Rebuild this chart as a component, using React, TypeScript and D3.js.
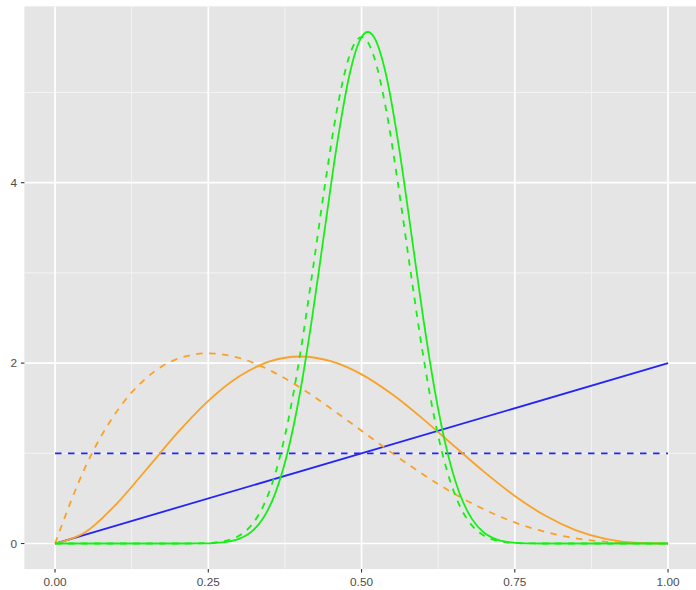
import React from "react";
import * as d3 from "d3";

const blueX = [0, 1];
const blueDashed = [1, 1];
const blueSolid = [0, 2];

const orangeX = [0, 0.05, 0.1, 0.15, 0.2, 0.25, 0.3, 0.35, 0.4, 0.45, 0.5, 0.55, 0.6, 0.65, 0.7, 0.75, 0.8, 0.85, 0.9, 0.95, 1];
const orangeDashed = [0, 0.857, 1.458, 1.842, 2.048, 2.109, 2.058, 1.922, 1.728, 1.497, 1.25, 1.002, 0.768, 0.557, 0.378, 0.234, 0.128, 0.057, 0.018, 0.0024, 0];
const orangeSolid = [0, 0.1286, 0.4374, 0.8291, 1.2288, 1.582, 1.852, 2.0185, 2.0736, 2.0214, 1.875, 1.654, 1.3824, 1.0869, 0.7938, 0.5273, 0.3072, 0.1463, 0.0486, 0.0068, 0];

const greenX = [0, 0.1, 0.2, 0.22, 0.24, 0.26, 0.28, 0.3, 0.32, 0.34, 0.36, 0.38, 0.4, 0.42, 0.44, 0.46, 0.48, 0.49, 0.5, 0.51, 0.52, 0.54, 0.56, 0.58, 0.6, 0.62, 0.64, 0.66, 0.68, 0.7, 0.72, 0.74, 0.76, 0.78, 0.8, 0.9, 1];
const greenDashed = [0, 0, 0.0001, 0.0007, 0.0029, 0.0105, 0.0321, 0.0855, 0.2007, 0.4201, 0.7915, 1.352, 2.107, 3.013, 3.963, 4.812, 5.402, 5.56, 5.614, 5.56, 5.402, 4.812, 3.963, 3.013, 2.107, 1.352, 0.7915, 0.4201, 0.2007, 0.0855, 0.0321, 0.0105, 0.0029, 0.0007, 0.0001, 0, 0];
const greenSolid = [0, 0, 0, 0.0003, 0.0014, 0.0055, 0.018, 0.0513, 0.1284, 0.2857, 0.5699, 1.0275, 1.6856, 2.531, 3.487, 4.427, 5.186, 5.449, 5.614, 5.671, 5.618, 5.197, 4.439, 3.495, 2.528, 1.676, 1.013, 0.5545, 0.273, 0.1197, 0.0462, 0.0155, 0.0044, 0.0011, 0.0002, 0, 0];

const xTicks = [0, 0.25, 0.5, 0.75, 1];
const xTickLabels = ["0.00", "0.25", "0.50", "0.75", "1.00"];
const xMinor = [0.125, 0.375, 0.625, 0.875];
const yTicks = [0, 2, 4];
const yTickLabels = ["0", "2", "4"];
const yMinor = [1, 3, 5];

const W = 696;
const H = 590;

export default function App() {
  const x = d3.scaleLinear().domain([-0.05, 1.05]).range([24.4, 698.7]);
  const yMax = 5.671;
  const ex = yMax * 0.05;
  const y = d3.scaleLinear().domain([-ex, yMax + ex]).range([569.1, 6.4]);

  const line = d3
    .line<[number, number]>()
    .x((d) => x(d[0]))
    .y((d) => y(d[1]))
    .curve(d3.curveMonotoneX);

  const zip = (xs: number[], ys: number[]) => xs.map((v, i) => [v, ys[i]] as [number, number]);

  const blue = "#2424F8";
  const orange = "#F9A128";
  const green = "#14F014";
  const series = [
    { d: zip(blueX, blueDashed), color: blue, dash: "6.5,6.5" },
    { d: zip(blueX, blueSolid), color: blue, dash: undefined },
    { d: zip(orangeX, orangeDashed), color: orange, dash: "6.5,6.5" },
    { d: zip(orangeX, orangeSolid), color: orange, dash: undefined },
    { d: zip(greenX, greenDashed), color: green, dash: "6.5,6.5" },
    { d: zip(greenX, greenSolid), color: green, dash: undefined },
  ];

  const [x0, x1] = x.range();
  const [y0, y1] = y.range();
  const font = "'Liberation Sans', Arial, sans-serif";

  return (
    <svg
      width={W}
      height={H}
      style={{ position: "absolute", left: 0, top: 0, background: "#fff" }}
    >
      <defs>
        <clipPath id="panel">
          <rect x={x0} y={y1} width={x1 - x0} height={y0 - y1} />
        </clipPath>
      </defs>
      <rect x={x0} y={y1} width={x1 - x0} height={y0 - y1} fill="#E5E5E5" />
      <g clipPath="url(#panel)">
        {xMinor.map((t) => (
          <line key={"xm" + t} x1={x(t)} x2={x(t)} y1={y1} y2={y0} stroke="#F5F5F5" strokeWidth={0.9} />
        ))}
        {yMinor.map((t) => (
          <line key={"ym" + t} x1={x0} x2={x1} y1={y(t)} y2={y(t)} stroke="#F5F5F5" strokeWidth={0.9} />
        ))}
        {xTicks.map((t) => (
          <line key={"xM" + t} x1={x(t)} x2={x(t)} y1={y1} y2={y0} stroke="#fff" strokeWidth={1.7} />
        ))}
        {yTicks.map((t) => (
          <line key={"yM" + t} x1={x0} x2={x1} y1={y(t)} y2={y(t)} stroke="#fff" strokeWidth={1.7} />
        ))}
        {series.map((s, i) => (
          <path
            key={i}
            d={line(s.d) || ""}
            fill="none"
            stroke={s.color}
            strokeWidth={1.8}
            strokeDasharray={s.dash}
          />
        ))}
      </g>
      {xTicks.map((t, i) => (
        <g key={"xt" + t}>
          <line x1={x(t)} x2={x(t)} y1={y0} y2={y0 + 3.5} stroke="#333" strokeWidth={1.1} />
          <text x={x(t)} y={586} textAnchor="middle" fontFamily={font} fontSize={11.8} fill="#4D4D4D">
            {xTickLabels[i]}
          </text>
        </g>
      ))}
      {yTicks.map((t, i) => (
        <g key={"yt" + t}>
          <line x1={x0 - 3.5} x2={x0} y1={y(t)} y2={y(t)} stroke="#333" strokeWidth={1.1} />
          <text x={17} y={y(t) + 4.2} textAnchor="end" fontFamily={font} fontSize={11.8} fill="#4D4D4D">
            {yTickLabels[i]}
          </text>
        </g>
      ))}
    </svg>
  );
}
